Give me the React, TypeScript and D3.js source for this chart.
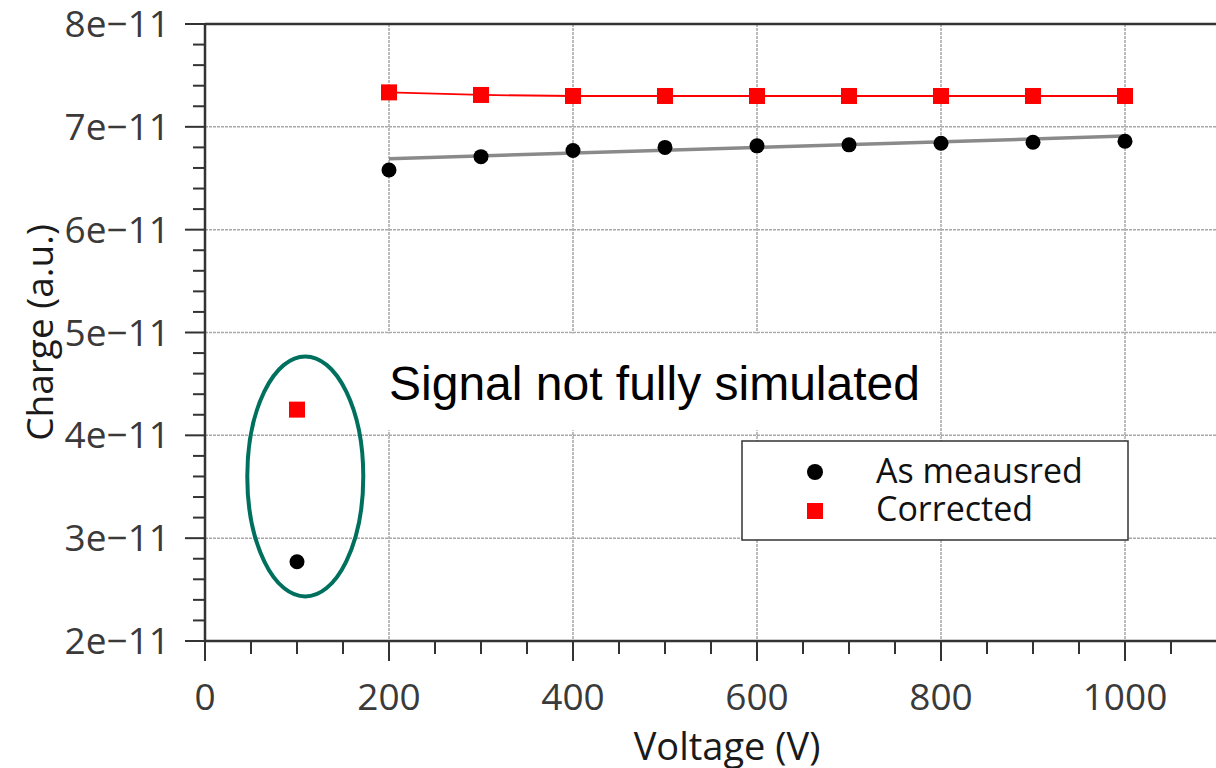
import React from "react";
import * as d3 from "d3";

const voltages = [100, 200, 300, 400, 500, 600, 700, 800, 900, 1000];
const asMeasured = [2.77e-11, 6.58e-11, 6.71e-11, 6.77e-11, 6.8e-11, 6.815e-11, 6.825e-11, 6.84e-11, 6.85e-11, 6.86e-11];
const corrected = [4.25e-11, 7.335e-11, 7.31e-11, 7.3e-11, 7.3e-11, 7.3e-11, 7.3e-11, 7.3e-11, 7.3e-11, 7.3e-11];
const fitVoltage = [200, 1000];
const fitCharge = [6.69e-11, 6.91e-11];
const xTicks = [0, 200, 400, 600, 800, 1000];
const yTicks = [2e-11, 3e-11, 4e-11, 5e-11, 6e-11, 7e-11, 8e-11];
const yTickLabels = ["2e\u221211", "3e\u221211", "4e\u221211", "5e\u221211", "6e\u221211", "7e\u221211", "8e\u221211"];
const legendLabels = ["As meausred", "Corrected"];
const annotationText = "Signal not fully simulated";

const W = 1216;
const H = 768;
const L = 205;
const R = 1217;
const T = 24;
const B = 641;
const FONT = "'Open Sans', 'Noto Sans', sans-serif";

export default function App() {
  const x = d3.scaleLinear().domain([0, 1100]).range([L, R]);
  const y = d3.scaleLinear().domain([2e-11, 8e-11]).range([B, T]);

  const xMinor = d3.range(0, 1101, 50).filter((v) => v % 200 !== 0);
  const yMinor = d3.range(2, 8.001, 0.2).map((v) => v * 1e-11).filter((v) => Math.abs((v * 1e11) - Math.round(v * 1e11)) > 0.01);

  const measuredPts = voltages.map((v, i) => ({ v, c: asMeasured[i] }));
  const correctedPts = voltages.map((v, i) => ({ v, c: corrected[i] }));
  const line = d3.line<{ v: number; c: number }>().x((d) => x(d.v)).y((d) => y(d.c));
  const fitPts = fitVoltage.map((v, i) => ({ v, c: fitCharge[i] }));

  const gridColor = "#a8a8a8";
  const axisColor = "#333";
  const sq = 16;

  const ellCx = x(109);
  const ellCy = y(3.6e-11);

  return (
    <svg
      width={W}
      height={H}
      style={{ position: "absolute", left: 0, top: 0, background: "#fff" }}
      fontFamily={FONT}
    >
      <rect x={0} y={0} width={W} height={H} fill="#fff" />
      {xTicks.filter((t) => t > 0).map((t) => (
        <line key={"gx" + t} x1={x(t)} x2={x(t)} y1={T} y2={B} stroke={gridColor} strokeWidth={1.5} strokeDasharray="3,1" />
      ))}
      {yTicks.filter((t, i) => i > 0 && i < yTicks.length - 1).map((t) => (
        <line key={"gy" + t} x1={L} x2={R} y1={y(t)} y2={y(t)} stroke={gridColor} strokeWidth={1.5} strokeDasharray="3,1" />
      ))}

      <rect x={x(193)} y={y(4.99e-11)} width={x(783) - x(193)} height={y(4.05e-11) - y(4.99e-11)} fill="#fff" />
      <text x={x(200)} y={y(4.34e-11)} fontFamily="'Liberation Sans', Arial, sans-serif" fontSize={48} fill="#000">
        {annotationText}
      </text>

      <line x1={L} x2={R} y1={T} y2={T} stroke={axisColor} strokeWidth={2.5} />
      <line x1={L} x2={L} y1={T - 1} y2={B + 1} stroke={axisColor} strokeWidth={2.5} />
      <line x1={L - 1} x2={R} y1={B} y2={B} stroke={axisColor} strokeWidth={2.5} />
      {xTicks.map((t) => (
        <line key={"xt" + t} x1={x(t)} x2={x(t)} y1={B} y2={B + 20} stroke={axisColor} strokeWidth={2} />
      ))}
      {xMinor.map((t) => (
        <line key={"xm" + t} x1={x(t)} x2={x(t)} y1={B} y2={B + 13} stroke={axisColor} strokeWidth={2} />
      ))}
      {yTicks.map((t) => (
        <line key={"yt" + t} x1={L - 20} x2={L} y1={y(t)} y2={y(t)} stroke={axisColor} strokeWidth={2} />
      ))}
      {yMinor.map((t) => (
        <line key={"ym" + t} x1={L - 12} x2={L} y1={y(t)} y2={y(t)} stroke={axisColor} strokeWidth={2} />
      ))}
      {xTicks.map((t) => (
        <text key={"xl" + t} x={x(t)} y={B + 69} textAnchor="middle" fontSize={37} fill="#3a3a3a">
          {t}
        </text>
      ))}
      {yTicks.map((t, i) => (
        <text key={"yl" + t} x={L - 35} y={y(t) + 13} textAnchor="end" fontSize={37} fill="#3a3a3a">
          {yTickLabels[i]}
        </text>
      ))}
      <text x={727} y={760} textAnchor="middle" fontSize={38} fill="#1a1a1a">
        Voltage (V)
      </text>
      <text transform={`translate(53, ${(T + B) / 2}) rotate(-90)`} textAnchor="middle" fontSize={37} fill="#1a1a1a">
        Charge (a.u.)
      </text>

      <path d={line(fitPts) || ""} fill="none" stroke="#8a8a8a" strokeWidth={3.5} />
      <path d={line(correctedPts.slice(1)) || ""} fill="none" stroke="#ff0000" strokeWidth={1.8} />

      {measuredPts.map((d) => (
        <circle key={"m" + d.v} cx={x(d.v)} cy={y(d.c)} r={7.5} fill="#000" />
      ))}
      {correctedPts.map((d) => (
        <rect key={"c" + d.v} x={x(d.v) - sq / 2} y={y(d.c) - sq / 2} width={sq} height={sq} fill="#ff0000" />
      ))}

      <ellipse cx={ellCx} cy={ellCy} rx={58} ry={120} fill="none" stroke="#00705e" strokeWidth={4} />

      <rect x={742} y={441} width={386} height={99} fill="#fff" stroke="#333" strokeWidth={1.5} />
      <circle cx={815} cy={472} r={8} fill="#000" />
      <rect x={815 - 8} y={511 - 8} width={16} height={16} fill="#ff0000" />
      <text x={876} y={483} fontSize={34} fill="#111">{legendLabels[0]}</text>
      <text x={876} y={521} fontSize={34} fill="#111">{legendLabels[1]}</text>
    </svg>
  );
}
